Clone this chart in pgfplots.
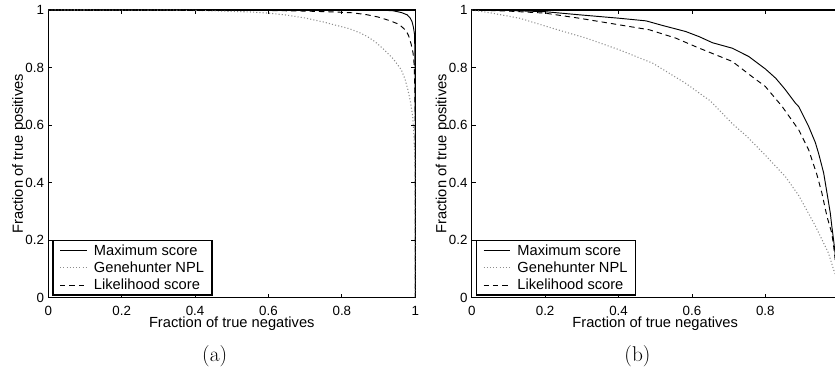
\documentclass[border=0pt]{standalone}
\usepackage{fontspec}
\usepackage{pgfplots}
\pgfplotsset{compat=1.18}
\newfontfamily\helv{Liberation Sans}
\definecolor{dotgray}{gray}{0.55}
\pgfplotsset{
  rocax/.style={
    scale only axis, width=275.25pt, height=215.8pt,
    anchor=south west,
    xmin=0, xmax=1, ymin=0, ymax=1,
    xtick={0,0.2,0.4,0.6,0.8,1}, ytick={0,0.2,0.4,0.6,0.8,1},
    /pgf/number format/assume math mode=true,
    tick align=inside, major tick length=3pt,
    major tick style={line width=0.6pt, black},
    axis line style={line width=0.9pt},
    tick label style={font=\helv\fontsize{10}{12}\selectfont},
    xticklabel style={anchor=base, inner sep=0pt, yshift=-13pt},
    yticklabel style={anchor=east, inner sep=0pt, xshift=-3pt},
    xlabel={Fraction of true negatives},
    ylabel={Fraction of true positives},
    label style={font=\helv\fontsize{11}{13}\selectfont},
    xlabel style={at={(axis description cs:0.5,-0.105)}, anchor=base, inner sep=0pt},
    ylabel style={at={(axis description cs:-0.069,0.5)}, anchor=base, inner sep=0pt, rotate=0},
    legend cell align=left,
    legend image code/.code={\draw[##1] (0pt,0pt) -- (20pt,0pt);},
    legend style={at={(axis description cs:0.011,0.007)}, anchor=south west,
      draw=black, line width=0.9pt, fill=white,
      font=\helv\fontsize{11}{13}\selectfont,
      inner xsep=5pt, inner ysep=2pt, row sep=2pt,
      nodes={inner sep=1pt, text height=8pt, text depth=1pt},
      /tikz/every odd column/.append style={column sep=4pt}},
    clip=true,
  },
  solidS/.style={black, line width=0.7pt, solid},
  dotS/.style={dotgray, line width=0.8pt, dash pattern=on 0.8pt off 1.6pt},
  dashS/.style={black, line width=0.7pt, dash pattern=on 4pt off 3pt},
}
\begin{document}
\begin{tikzpicture}
\useasboundingbox (0,0) rectangle (626.25pt,276.75pt);
\clip (0,0) rectangle (626.25pt,276.75pt);
% ---------------- (a)
\begin{axis}[rocax, at={(36.2pt,53.5pt)}]
\addplot[solidS] coordinates {(0,1) (0.9,1) (0.94,0.997) (0.962,0.991) (0.978,0.983) (0.986,0.972) (0.991,0.96) (0.995,0.94) (0.998,0.915) (0.999,0.85) (1,0.6) (1,0)};
\addlegendentry{Maximum score}
\addplot[dotS] coordinates {(0,1) (0.35,0.999) (0.45,0.997) (0.55,0.993) (0.6,0.989) (0.65,0.982) (0.7,0.972) (0.75,0.958) (0.78,0.948) (0.82,0.935) (0.85,0.92) (0.87,0.907) (0.89,0.89) (0.916,0.861) (0.94,0.83) (0.962,0.792) (0.972,0.76) (0.98,0.722) (0.987,0.68) (0.993,0.63) (0.996,0.57) (0.998,0.514) (0.9995,0.45) (1,0.4) (1,0)};
\addlegendentry{Genehunter NPL}
\addplot[dashS] coordinates {(0,1) (0.6,0.998) (0.7,0.996) (0.78,0.993) (0.83,0.99) (0.87,0.983) (0.9,0.975) (0.93,0.963) (0.95,0.953) (0.962,0.943) (0.975,0.928) (0.982,0.91) (0.989,0.88) (0.994,0.85) (0.997,0.81) (0.999,0.7) (1,0.5) (1,0)};
\addlegendentry{Likelihood score}
\end{axis}
% ---------------- (b)
\begin{axis}[rocax, at={(353.8pt,53.5pt)}, xticklabels={0,0.2,0.4,0.6,0.8,{}}]
\addplot[solidS] coordinates {(0,1) (0.1,0.998) (0.199,0.994) (0.294,0.983) (0.403,0.971) (0.475,0.962) (0.52,0.946) (0.583,0.925) (0.62,0.907) (0.656,0.886) (0.71,0.867) (0.755,0.838) (0.80,0.795) (0.828,0.763) (0.846,0.736) (0.855,0.722) (0.882,0.676) (0.891,0.664) (0.918,0.595) (0.936,0.54) (0.945,0.502) (0.959,0.433) (0.968,0.364) (0.977,0.294) (0.981,0.25) (0.986,0.2) (0.995,0.1) (1,0)};
\addlegendentry{Maximum score}
\addplot[dotS] coordinates {(0,1) (0.05,0.99) (0.131,0.971) (0.221,0.936) (0.312,0.902) (0.403,0.861) (0.493,0.815) (0.583,0.745) (0.62,0.711) (0.65,0.684) (0.71,0.605) (0.75,0.56) (0.80,0.495) (0.855,0.42) (0.891,0.355) (0.936,0.25) (0.972,0.155) (0.986,0.097) (1,0.05)};
\addlegendentry{Genehunter NPL}
\addplot[dashS] coordinates {(0,1) (0.1,0.996) (0.199,0.989) (0.294,0.971) (0.403,0.948) (0.484,0.931) (0.556,0.902) (0.62,0.867) (0.71,0.821) (0.764,0.768) (0.80,0.734) (0.846,0.664) (0.891,0.583) (0.918,0.514) (0.94,0.43) (0.954,0.364) (0.968,0.282) (0.981,0.225) (0.986,0.18) (0.995,0.08) (1,0)};
\addlegendentry{Likelihood score}
\end{axis}
\node[font=\fontsize{16}{19}\selectfont, anchor=base, inner sep=0pt] at (161pt,5.6pt) {(a)};
\node[font=\fontsize{16}{19}\selectfont, anchor=base, inner sep=0pt] at (478.1pt,5.6pt) {(b)};
\end{tikzpicture}
\end{document}
